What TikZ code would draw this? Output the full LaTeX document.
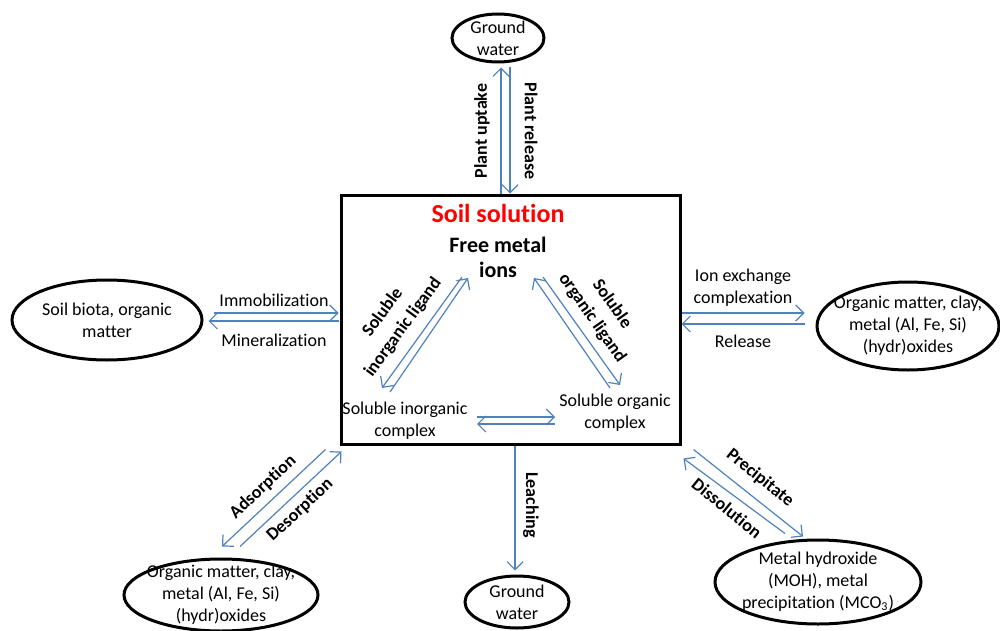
\documentclass[tikz,border=0pt]{standalone}
\usepackage{fontspec}
\setmainfont{Carlito}[Ligatures=NoCommon]
\usetikzlibrary{shapes.geometric,arrows.meta}
\definecolor{flowblue}{RGB}{79,129,189}
\tikzset{
  pool/.style={draw,ellipse,line width=1.5pt,inner sep=0pt},
  flow/.style={draw=flowblue,line width=0.6pt,-{Straight Barb[length=4pt,width=8pt]}},
  lab/.style={align=center,inner sep=0pt,font=\fontsize{9}{11}\selectfont},
  tag/.style={align=center,inner sep=0pt,font=\bfseries\fontsize{9}{11}\selectfont},
}
\begin{document}
\begin{tikzpicture}[x=0.5pt,y=-0.5pt]
  \useasboundingbox (0,0) rectangle (1000,631);
  \node[draw,line width=1.5pt,minimum width=169.5pt,minimum height=124.5pt] (soil) at (510.5,319.5) {};
  \node[pool,minimum width=46pt,minimum height=24pt] (gwtop) at (498,38) {};
  \node[pool,minimum width=95pt,minimum height=40pt] (bio) at (107,320) {};
  \node[pool,minimum width=91pt,minimum height=44pt] (ox) at (908,326) {};
  \node[pool,minimum width=97pt,minimum height=36pt] (sorb) at (221,595) {};
  \node[pool,minimum width=52pt,minimum height=26pt] (gwbot) at (517,602) {};
  \node[pool,minimum width=103pt,minimum height=42pt] (moh) at (818,582) {};

  \node[lab] (gwtoptext) at (gwtop) {Ground\\water};
  \node[lab] (biotext) at (bio) {Soil biota, organic\\matter};
  \node[lab] (oxtext) at (ox) {Organic matter, clay,\\metal (Al, Fe, Si)\\(hydr)oxides};
  \node[lab] (sorbtext) at (sorb) {Organic matter, clay,\\metal (Al, Fe, Si)\\(hydr)oxides};
  \node[lab] (gwbottext) at (gwbot) {Ground\\water};
  \node[lab] (mohtext) at (moh) {Metal hydroxide\\(MOH), metal\\precipitation (MCO\textsubscript{3})};

  \node[inner sep=0pt,text=red,font=\bfseries\fontsize{13}{15}\selectfont] (title) at (498,213) {Soil solution};
  \node[tag,font=\bfseries\fontsize{11}{12.5}\selectfont] (free) at (498,257) {Free metal\\ions};
  \node[lab] (inorg) at (405,421) {Soluble inorganic\\complex};
  \node[lab] (org) at (615,413) {Soluble organic\\complex};

  \draw[flow] ([shift={(-9.5,0)}]soil.north) -- ([shift={(3,4)}]gwtop.south);
  \draw[flow] ([shift={(12,4)}]gwtop.south) -- ([shift={(-0.5,0)}]soil.north);
  \draw[flow] ([shift={(10,-7)}]bio.east) -- ([shift={(-1,-6.5)}]soil.west);
  \draw[flow] ([shift={(-1,1.5)}]soil.west) -- ([shift={(5,1)}]bio.east);
  \draw[flow] ([shift={(0,-6.5)}]soil.east) -- ([shift={(-11,-13)}]ox.west);
  \draw[flow] ([shift={(-11,-2)}]ox.west) -- ([shift={(0,4.5)}]soil.east);
  \draw[flow] ([shift={(4.5,0)}]soil.south) -- ([shift={(-2,-4)}]gwbot.north);
  \draw[flow] ([shift={(-14,4)}]soil.south west) -- ([shift={(1,-11)}]sorb.north);
  \draw[flow] ([shift={(19,-11)}]sorb.north) -- ([shift={(2,6)}]soil.south west);
  \draw[flow] ([shift={(12,4)}]soil.south east) -- ([shift={(-15,-2)}]moh.north);
  \draw[flow] ([shift={(-33,-5)}]moh.north) -- ([shift={(2,13)}]soil.south east);

  \draw[flow] ([shift={(-15,-29)}]inorg.center) -- ([shift={(-30,21)}]free.center);
  \draw[flow] ([shift={(-36,20)}]free.center) -- ([shift={(-23,-33)}]inorg.center);
  \draw[flow] ([shift={(-5,-25)}]org.center) -- ([shift={(36,21)}]free.center);
  \draw[flow] ([shift={(45,20)}]free.center) -- ([shift={(5,-28)}]org.center);
  \draw[flow] ([shift={(72,-4)}]inorg.center) -- ([shift={(-60,4)}]org.center);
  \draw[flow] ([shift={(-60,11)}]org.center) -- ([shift={(72,3)}]inorg.center);

  \node[tag,rotate=90] (uptake) at (482,131) {Plant uptake};
  \node[tag,rotate=-90] (plantrel) at (531,131) {Plant release};
  \node[lab] (immob) at (274,300) {Immobilization};
  \node[lab] (mineral) at (274,340) {Mineralization};
  \node[lab] (ionex) at (743,288) {Ion exchange\\complexation};
  \node[lab] (release) at (743,341) {Release};
  \node[tag,rotate=54,font=\bfseries\fontsize{9}{12.5}\selectfont] (inlig) at (393,320) {Soluble\\inorganic ligand};
  \node[tag,rotate=-55,font=\bfseries\fontsize{9}{12}\selectfont] (orglig) at (602,311) {Soluble\\organic ligand};
  \node[tag,rotate=43] (adsorp) at (263,487) {Adsorption};
  \node[tag,rotate=43] (desorp) at (300,510) {Desorption};
  \node[tag,rotate=-90] (leach) at (531,505) {Leaching};
  \node[tag,rotate=-39] (precip) at (760,478) {Precipitate};
  \node[tag,rotate=-39] (dissol) at (727,508) {Dissolution};
\end{tikzpicture}
\end{document}
